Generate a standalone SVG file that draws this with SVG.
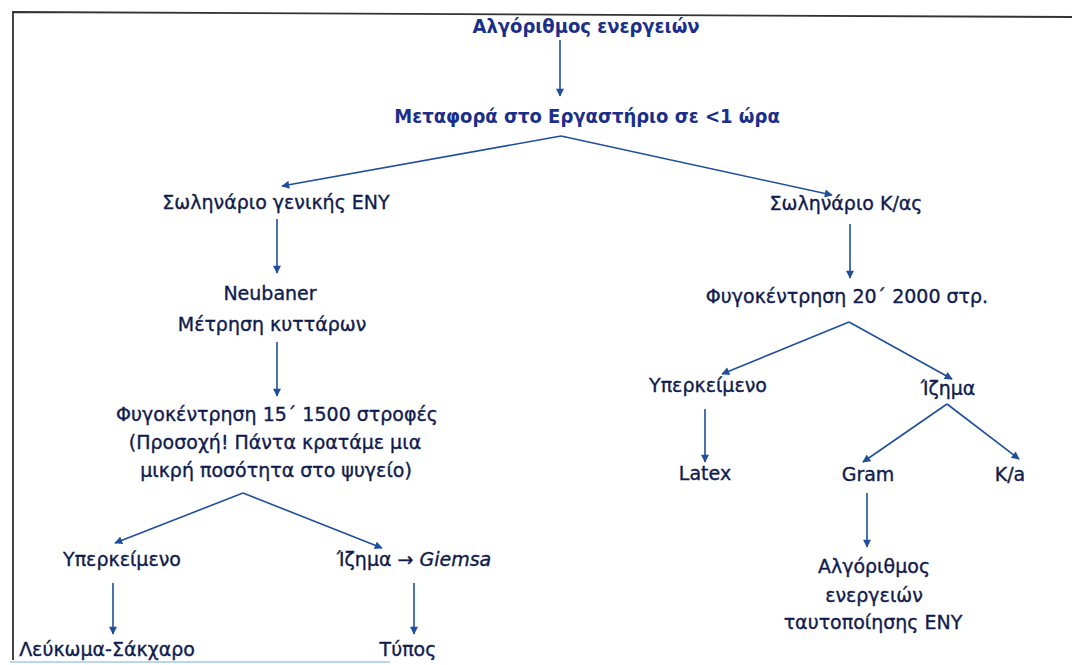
<svg xmlns="http://www.w3.org/2000/svg" width="1072" height="665" viewBox="0 0 1072 665">
<defs>
<marker id="ah" viewBox="0 0 10 10" refX="9" refY="5" markerWidth="9" markerHeight="8" markerUnits="userSpaceOnUse" orient="auto">
<path d="M0,0 L10,5 L0,10 z" fill="#1f4f9c"/>
</marker>
<style>
.t{font-family:"DejaVu Sans","Noto Sans",sans-serif;font-size:19px;fill:#0f1b4d;stroke:#0f1b4d;stroke-width:0.35;text-anchor:middle}
.b{font-family:"DejaVu Sans Condensed","DejaVu Sans",sans-serif;font-size:20px;font-weight:bold;fill:#1b2f8a;text-anchor:middle}
.c line{stroke:#1f4f9c;stroke-width:1.6;marker-end:url(#ah)}
</style>
</defs>
<rect width="1072" height="665" fill="#ffffff"/>
<g id="frame" fill="none" stroke="#333" stroke-width="1.8">
<path d="M13,660 L13,12 L1072,17"/>
</g>
<line x1="10" y1="662" x2="390" y2="662" stroke="#bcd6ea" stroke-width="2"/>
<g id="connectors" class="c">
<line x1="560" y1="40" x2="560" y2="96"/>
<line x1="561" y1="136" x2="282" y2="186"/>
<line x1="561" y1="136" x2="832" y2="195"/>
<line x1="277" y1="219" x2="277" y2="273"/>
<line x1="850" y1="224" x2="850" y2="278"/>
<line x1="277" y1="342" x2="277" y2="396"/>
<line x1="849" y1="322" x2="722" y2="374"/>
<line x1="849" y1="322" x2="952" y2="379"/>
<line x1="705" y1="409" x2="705" y2="462"/>
<line x1="947" y1="404" x2="863" y2="462"/>
<line x1="947" y1="404" x2="1019" y2="459"/>
<line x1="867" y1="493" x2="867" y2="547"/>
<line x1="243" y1="493" x2="115" y2="543"/>
<line x1="243" y1="493" x2="382" y2="548"/>
<line x1="113" y1="583" x2="113" y2="634"/>
<line x1="414" y1="583" x2="414" y2="634"/>
</g>
<g id="n1"><text class="b" x="586" y="33">Αλγόριθμος ενεργειών</text></g>
<g id="n2"><text class="b" x="587" y="123">Μεταφορά στο Εργαστήριο σε &lt;1 ώρα</text></g>
<g id="n3"><text class="t" x="276" y="209" font-size="20">Σωληνάριο γενικής ΕΝΥ</text></g>
<g id="n4"><text class="t" x="846" y="210">Σωληνάριο Κ/ας</text></g>
<g id="n5"><text class="t" x="270" y="300">Neubaner</text><text class="t" x="272" y="331" font-size="18.7">Μέτρηση κυττάρων</text></g>
<g id="n6"><text class="t" x="847" y="303" font-size="18.5">Φυγοκέντρηση 20΄  2000 στρ.</text></g>
<g id="n7"><text class="t" x="277" y="421" font-size="18.9">Φυγοκέντρηση 15΄ 1500 στροφές</text><text class="t" x="275" y="449" font-size="17.4">(Προσοχή! Πάντα κρατάμε μια</text><text class="t" x="276" y="477" font-size="18.5">μικρή ποσότητα στο ψυγείο)</text></g>
<g id="n8"><text class="t" x="708" y="392">Υπερκείμενο</text></g>
<g id="n9"><text class="t" x="948" y="395" font-size="20">Ίζημα</text></g>
<g id="n10"><text class="t" x="705" y="480" font-size="20">Latex</text></g>
<g id="n11"><text class="t" x="868" y="481" font-size="20">Gram</text></g>
<g id="n12"><text class="t" x="1010" y="481" font-size="20" text-anchor="start">K/a</text></g>
<g id="n13"><text class="t" x="874" y="573" font-size="18.5">Αλγόριθμος</text><text class="t" x="874" y="602" font-size="18.5">ενεργειών</text><text class="t" x="873" y="629">ταυτοποίησης ΕΝΥ</text></g>
<g id="n14"><text class="t" x="122" y="566" font-size="19.6">Υπερκείμενο</text></g>
<g id="n15"><text class="t" x="414" y="566" font-size="19.6">Ίζημα → <tspan font-style="italic">Giemsa</tspan></text></g>
<g id="n16"><text class="t" x="107" y="656" font-size="17.6">Λεύκωμα-Σάκχαρο</text></g>
<g id="n17"><text class="t" x="408" y="656">Τύπος</text></g>
</svg>
